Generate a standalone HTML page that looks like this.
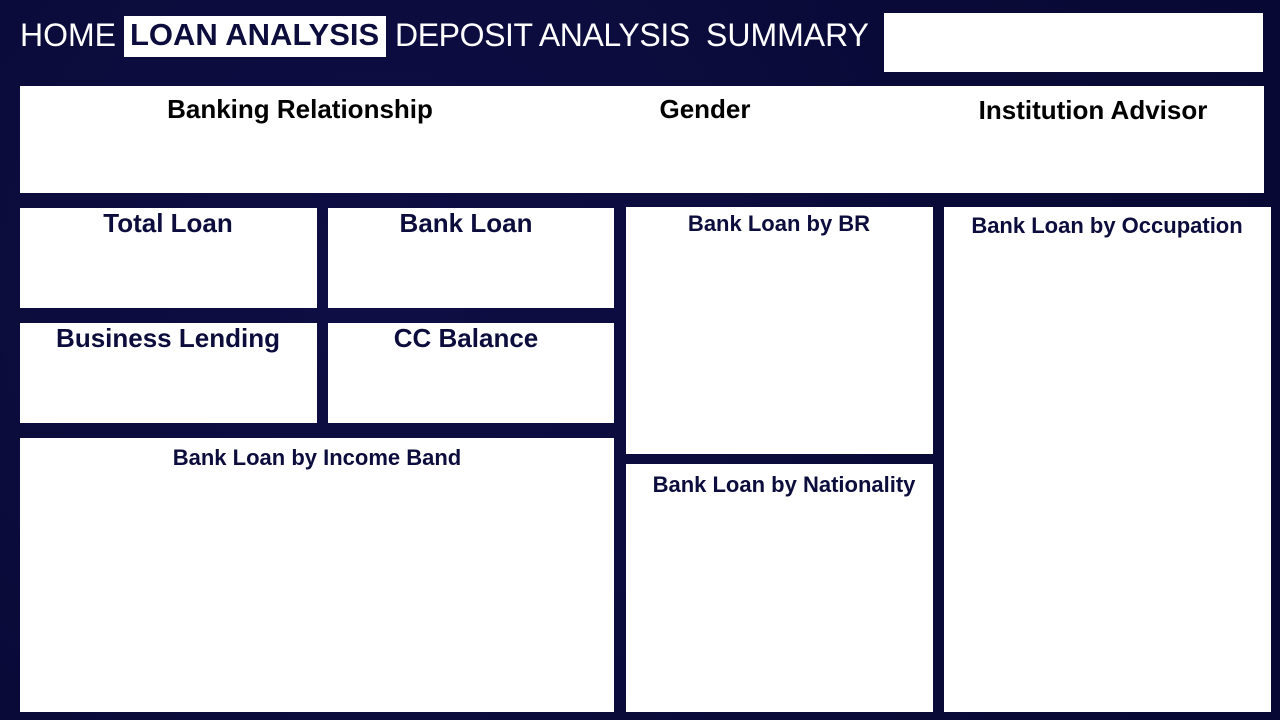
<!DOCTYPE html>
<html><head><meta charset="utf-8"><style>
html,body{margin:0;padding:0}
body{width:1280px;height:720px;position:relative;overflow:hidden;font-family:"Liberation Sans",sans-serif;
background:radial-gradient(circle at 30% 40%,#0e0e45 0%,#0a0a38 60%,#080834 100%);}
.p{position:absolute;background:#fff}
.t{position:absolute;white-space:nowrap;transform:translateX(-50%);font-weight:bold;color:#0d0d3d}
.nav{position:absolute;top:15px;font-size:32px;color:#fff;white-space:nowrap;line-height:40px}
</style></head><body>
<div class="nav" style="left:20px">HOME</div>
<div class="p" style="left:124px;top:16px;width:262px;height:41px"></div>
<div class="nav" style="left:130px;font-weight:bold;color:#0d0d3d;font-size:31px">LOAN ANALYSIS</div>
<div class="nav" style="left:395px;letter-spacing:-0.4px">DEPOSIT ANALYSIS</div>
<div class="nav" style="left:706px">SUMMARY</div>
<div class="p" style="left:884px;top:13px;width:379px;height:59px"></div>

<div class="p" style="left:20px;top:86px;width:1244px;height:107px"></div>
<div class="t" style="left:300px;top:94px;font-size:26px;color:#000">Banking Relationship</div>
<div class="t" style="left:705px;top:94px;font-size:26px;color:#000">Gender</div>
<div class="t" style="left:1093px;top:95px;font-size:26px;color:#000">Institution Advisor</div>

<div class="p" style="left:20px;top:208px;width:297px;height:100px"></div>
<div class="t" style="left:168px;top:208px;font-size:26px">Total Loan</div>
<div class="p" style="left:328px;top:208px;width:286px;height:100px"></div>
<div class="t" style="left:466px;top:208px;font-size:26px">Bank Loan</div>
<div class="p" style="left:20px;top:323px;width:297px;height:100px"></div>
<div class="t" style="left:168px;top:323px;font-size:26px">Business Lending</div>
<div class="p" style="left:328px;top:323px;width:286px;height:100px"></div>
<div class="t" style="left:466px;top:323px;font-size:26px">CC Balance</div>
<div class="p" style="left:20px;top:438px;width:594px;height:274px"></div>
<div class="t" style="left:317px;top:445px;font-size:22px">Bank Loan by Income Band</div>
<div class="p" style="left:626px;top:207px;width:307px;height:247px"></div>
<div class="t" style="left:779px;top:211px;font-size:22px">Bank Loan by BR</div>
<div class="p" style="left:626px;top:464px;width:307px;height:248px"></div>
<div class="t" style="left:784px;top:472px;font-size:22px">Bank Loan by Nationality</div>
<div class="p" style="left:944px;top:207px;width:327px;height:505px"></div>
<div class="t" style="left:1107px;top:213px;font-size:22px">Bank Loan by Occupation</div>
</body></html>
